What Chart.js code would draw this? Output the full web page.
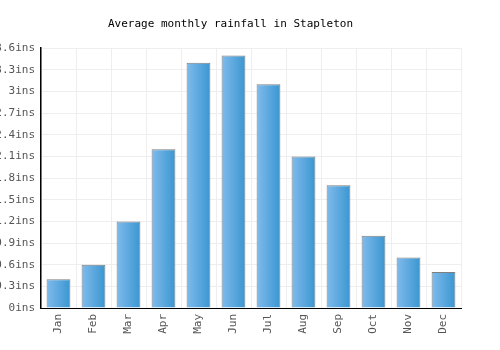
<!DOCTYPE html>
<html>
<head>
<meta charset="utf-8">
<script src="https://cdn.jsdelivr.net/npm/chart.js@4.4.1/dist/chart.umd.min.js"></script>
<style>
  html, body { margin: 0; padding: 0; background: #fff; }
  #wrap { width: 500px; height: 350px; }
</style>
</head>
<body>
<div id="wrap"><canvas id="rainChart"></canvas></div>
<script>
// data
const months = ["Jan", "Feb", "Mar", "Apr", "May", "Jun", "Jul", "Aug", "Sep", "Oct", "Nov", "Dec"];
const rainfall = [0.4, 0.6, 1.2, 2.2, 3.4, 3.5, 3.1, 2.1, 1.7, 1.0, 0.7, 0.5];
const yTicks = [0, 0.3, 0.6, 0.9, 1.2, 1.5, 1.8, 2.1, 2.4, 2.7, 3, 3.3, 3.6];

const FONT = "'DejaVu Sans Mono', monospace";

function barGradient(context) {
    const chart = context.chart;
    const xs = chart.scales.x;
    if (!xs || context.dataIndex === undefined) return "#5aa7de";
    const cx = xs.getPixelForValue(context.dataIndex);
    const half = (xs.width / months.length) * 0.68 / 2;
    if (!isFinite(cx) || !isFinite(half) || half <= 0) return "#5aa7de";
    const g = chart.ctx.createLinearGradient(cx - half, 0, cx + half, 0);
    g.addColorStop(0, "#80bbec");
    g.addColorStop(1, "#3a96d1");
    return g;
}

const chart = new Chart(document.getElementById("rainChart"), {
    type: "bar",
    data: {
        labels: months,
        datasets: [{
            data: rainfall,
            backgroundColor: barGradient,
            borderColor: "#7f7f7f",
            borderWidth: 1,
            borderSkipped: "start",
            categoryPercentage: 0.68,
            barPercentage: 1
        }]
    },
    options: {
        responsive: true,
        maintainAspectRatio: false,
        animation: false,
        layout: { padding: { left: 0, right: 39, top: 0, bottom: 0 } },
        plugins: {
            legend: { display: false },
            tooltip: { enabled: false },
            title: {
                display: true,
                text: "Average monthly rainfall in Stapleton",
                color: "#000",
                font: { family: FONT, size: 11, weight: "normal" },
                padding: { top: 18, bottom: 17 }
            }
        },
        scales: {
            x: {
                grid: { color: "#eeeeee", offset: true, drawTicks: false },
                border: { color: "#000", width: 1 },
                ticks: {
                    color: "#555",
                    font: { family: FONT, size: 11 },
                    maxRotation: 90,
                    minRotation: 90,
                    padding: 6
                },
                afterFit: (s) => { s.height = 42; }
            },
            y: {
                z: 1,
                min: 0,
                max: 3.6,
                afterBuildTicks: (s) => { s.ticks = yTicks.map(v => ({ value: v })); },
                grid: { color: "#eeeeee", drawTicks: false },
                border: { display: true, color: "#000", width: 1.5 },
                ticks: {
                    color: "#555",
                    font: { family: FONT, size: 11 },
                    padding: 6,
                    callback: (v) => (Math.round(v * 10) / 10) + "ins"
                },
                afterFit: (s) => { s.width = 41; }
            }
        }
    }
});
chart.update();
</script>
</body>
</html>
